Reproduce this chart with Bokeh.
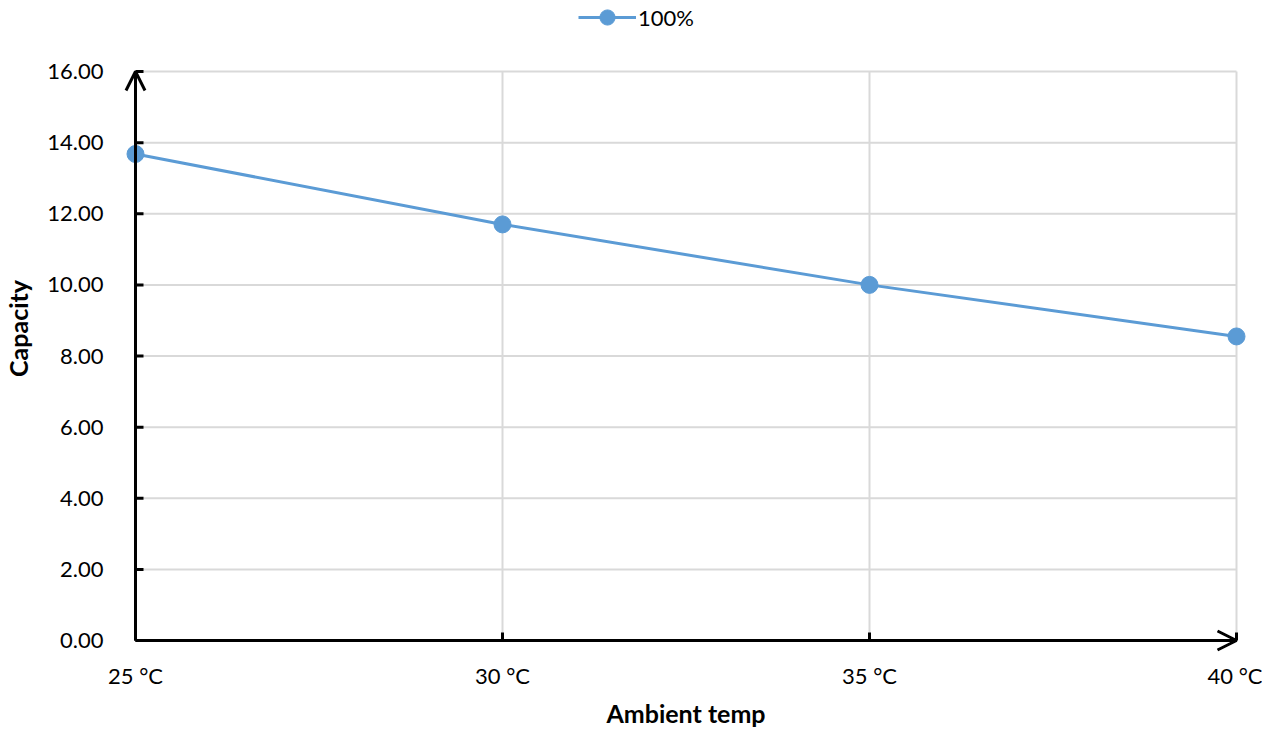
import math
from bokeh.plotting import figure
from bokeh.models import (Range1d, FixedTicker, NumeralTickFormatter, Arrow, OpenHead,
                          Legend, LegendItem, ColumnDataSource)
from bokeh.embed import file_html
from bokeh.resources import INLINE

x_values = [25, 30, 35, 40]
x_labels = ["25 °C", "30 °C", "35 °C", "40 °C"]
capacity = [13.68, 11.70, 10.00, 8.55]
series_name = "100%"
y_ticks = [0, 2, 4, 6, 8, 10, 12, 14, 16]

FONT = "Lato"
BLUE = "#5b9bd5"

# layout (pixels)
PLOT_W, PLOT_H = 1101, 569          # data area 25..40 x 0..16
PAD = 16                            # padding around data area
TOP = 71                            # space above data area (legend lives there)
xmin, xmax = x_values[0], x_values[-1]
ymin, ymax = y_ticks[0], y_ticks[-1]
ux = (xmax - xmin) / PLOT_W
uy = (ymax - ymin) / PLOT_H
FW = PLOT_W + 2 * PAD
FH = PLOT_H + PAD + TOP

src = ColumnDataSource(dict(x=x_values, y=capacity))

p = figure(frame_width=FW, frame_height=FH, output_backend="svg", toolbar_location=None,
           x_range=Range1d(xmin - PAD * ux, xmax + PAD * ux),
           y_range=Range1d(ymin - PAD * uy, ymax + TOP * uy),
           min_border_left=100, min_border_right=10, min_border_top=0, min_border_bottom=10)
p.outline_line_color = None
p.background_fill_color = "white"

p.xaxis.ticker = FixedTicker(ticks=x_values)
p.xaxis.major_label_overrides = {v: l for v, l in zip(x_values, x_labels)}
p.yaxis.ticker = FixedTicker(ticks=y_ticks)
p.yaxis.formatter = NumeralTickFormatter(format="0.00")

for ax in (p.xaxis, p.yaxis):
    ax.axis_line_color = None
    ax.major_tick_in = 0
    ax.major_tick_out = 0
    ax.major_tick_line_color = None
    ax.minor_tick_line_color = None
    ax.major_label_text_font = FONT
    ax.major_label_text_font_size = "22px"
    ax.major_label_text_color = "#000000"
    ax.axis_label_text_font = FONT
    ax.axis_label_text_font_size = "25px"
    ax.axis_label_text_font_style = "bold"
    ax.axis_label_text_color = "#000000"

p.xaxis.axis_label = "Ambient temp"
p.yaxis.axis_label = "Capacity"
p.xaxis.major_label_standoff = 5
p.yaxis.major_label_standoff = 16
p.xaxis.axis_label_standoff = 6
p.yaxis.axis_label_standoff = 11

p.grid.grid_line_color = None

# grid lines limited to the data area
p.segment(x0=[xmin] * len(y_ticks), y0=y_ticks, x1=[xmax] * len(y_ticks), y1=y_ticks,
          line_color="#d9d9d9", line_width=2)
p.segment(x0=x_values, y0=[ymin] * len(x_values), x1=x_values, y1=[ymax] * len(x_values),
          line_color="#d9d9d9", line_width=2)

# tick marks (inward)
p.ray(x=[xmin] * len(y_ticks), y=y_ticks, length=8, length_units="screen",
      angle=0, line_color="black", line_width=3)
p.ray(x=x_values, y=[ymin] * len(x_values), length=8, length_units="screen",
      angle=math.pi / 2, line_color="black", line_width=3)

# axes with arrow heads
for xe, ye in ((xmin, ymax), (xmax, ymin)):
    p.add_layout(Arrow(end=OpenHead(size=19, line_width=3, line_color="black"),
                       x_start=xmin, y_start=ymin, x_end=xe, y_end=ye,
                       line_width=3, line_color="black"))

line = p.line("x", "y", source=src, line_color=BLUE, line_width=3)
dots = p.scatter("x", "y", source=src, size=17, fill_color=BLUE, line_color=BLUE)

legend = Legend(items=[LegendItem(label=series_name, renderers=[line, dots])],
                location=(459, FH - 36), orientation="horizontal",
                glyph_width=58, glyph_height=38, label_standoff=2,
                label_text_font=FONT, label_text_font_size="22px",
                label_text_color="#000000", background_fill_alpha=0,
                border_line_color=None, padding=0, margin=0)
p.add_layout(legend, "center")

open("out.html", "w").write(file_html(p, INLINE))
